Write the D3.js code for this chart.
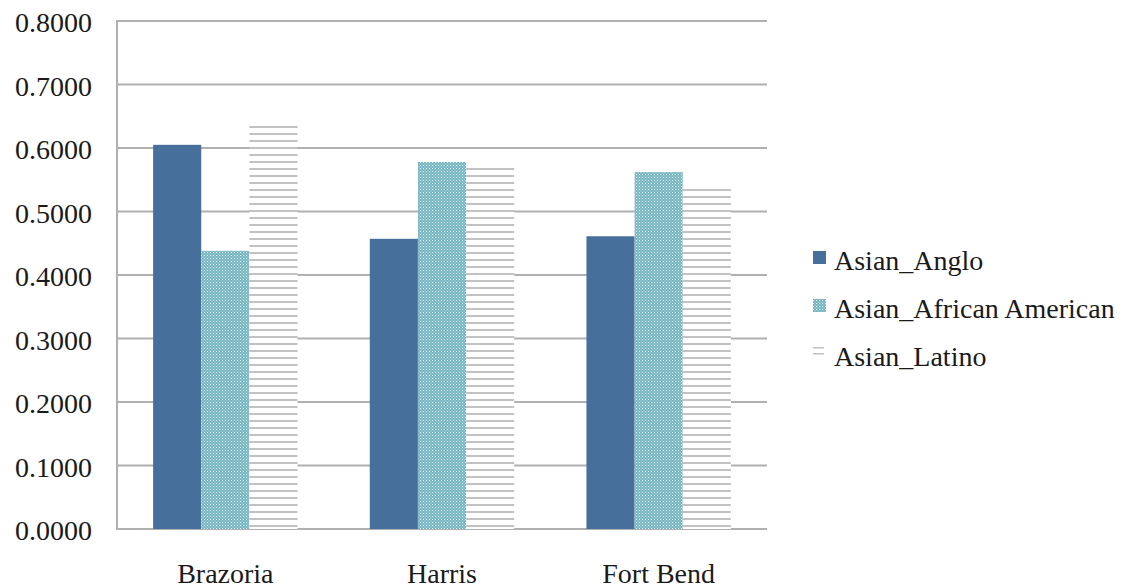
<!DOCTYPE html>
<html><head><meta charset="utf-8">
<script src="https://cdn.jsdelivr.net/npm/d3@7/dist/d3.min.js"></script>
</head><body style="margin:0">
<svg id="c" width="1142" height="588"></svg>
<script>
const categories = ["Brazoria", "Harris", "Fort Bend"];
const seriesNames = ["Asian_Anglo", "Asian_African American", "Asian_Latino"];
const anglo = [0.6050, 0.4570, 0.4610];
const africanAmerican = [0.4380, 0.5780, 0.5620];
const latino = [0.6370, 0.5700, 0.5400];
const yTicks = [0, 0.1, 0.2, 0.3, 0.4, 0.5, 0.6, 0.7, 0.8];

const seriesValues = [anglo, africanAmerican, latino];
const svg = d3.select("#c");
const serifFont = "Times New Roman";
const pLeft = 117, pRight = 767, pTop = 21, pBottom = 529;

const defs = svg.append("defs");
const pAA = defs.append("pattern").attr("id","pAA").attr("width",3).attr("height",3).attr("patternUnits","userSpaceOnUse");
pAA.append("rect").attr("width",3).attr("height",3).attr("fill","#76b6c2");
pAA.append("rect").attr("x",0).attr("y",0).attr("width",1).attr("height",1).attr("fill","#e4f1f3");
pAA.append("rect").attr("x",1.5).attr("y",1.5).attr("width",1).attr("height",1).attr("fill","#c4e0e5");
const pL = defs.append("pattern").attr("id","pL").attr("width",7).attr("height",7).attr("patternUnits","userSpaceOnUse");
pL.append("rect").attr("width",7).attr("height",7).attr("fill","#fff");
pL.append("rect").attr("y",0).attr("width",7).attr("height",2).attr("fill","#c2c2c2");

const fills = ["#466f9b", "url(#pAA)", "url(#pL)"];

const y = d3.scaleLinear().domain([0, 0.8]).range([pBottom, pTop]);
const x0 = d3.scaleBand().domain(categories).range([pLeft, pRight]).paddingInner(1/3).paddingOuter(1/6);
const x1 = d3.scaleBand().domain(seriesNames).range([0, x0.bandwidth()]);

svg.append("g").selectAll("line").data(yTicks).join("line")
  .attr("x1", pLeft).attr("x2", pRight)
  .attr("y1", d => y(d)).attr("y2", d => y(d))
  .attr("stroke", "#b0b0b0").attr("stroke-width", 2);
svg.append("line").attr("x1", pLeft).attr("x2", pLeft).attr("y1", pTop-1).attr("y2", pBottom+1)
  .attr("stroke", "#b0b0b0").attr("stroke-width", 2);

categories.forEach((c, ci) => {
  seriesNames.forEach((s, si) => {
    const v = seriesValues[si][ci];
    svg.append("rect")
      .attr("x", x0(c) + x1(s))
      .attr("y", y(v))
      .attr("width", x1.bandwidth())
      .attr("height", y(0) - y(v))
      .attr("fill", fills[si]);
  });
});

function label(sel) {
  return sel.attr("font-family", serifFont).attr("font-size", 28).attr("fill", "#1a1a1a")
    .style("font-family", `"${serifFont}"`);
}

yTicks.forEach(d => {
  label(svg.append("text").attr("x", 92).attr("y", y(d) + 11).attr("text-anchor", "end"))
    .text(d.toFixed(4));
});

categories.forEach(d => {
  label(svg.append("text").attr("x", x0(d) + x0.bandwidth()/2).attr("y", 583).attr("text-anchor", "middle"))
    .text(d);
});

const legBase = [270, 318, 366];
seriesNames.forEach((s, i) => {
  if (i < 2) {
    svg.append("rect").attr("x", 813).attr("y", legBase[i] - 19).attr("width", 13).attr("height", 13).attr("fill", fills[i]);
  } else {
    svg.append("rect").attr("x", 813).attr("y", legBase[i] - 19).attr("width", 11).attr("height", 1.5).attr("fill", "#c2c2c2");
    svg.append("rect").attr("x", 813).attr("y", legBase[i] - 13).attr("width", 11).attr("height", 1.5).attr("fill", "#c2c2c2");
  }
  label(svg.append("text").attr("x", 834).attr("y", legBase[i])).text(s);
});
</script>
</body></html>
